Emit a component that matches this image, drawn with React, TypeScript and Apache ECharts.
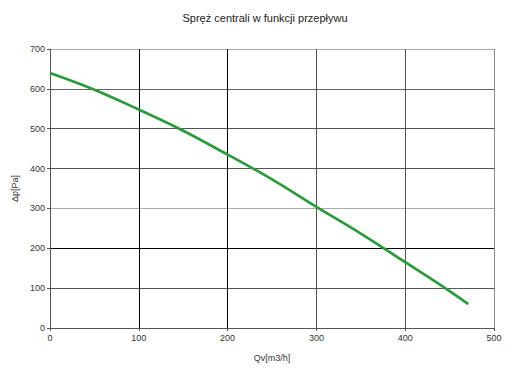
import React, { useEffect, useRef } from "react";
import * as echarts from "echarts";

const flowX = [0, 50, 100, 150, 200, 250, 300, 350, 400, 445, 471];
const pressureY = [640, 598, 548, 495, 435, 373, 304, 237, 165, 100, 60];
const titleText = "Spręż centrali w funkcji przepływu";
const xName = "Qv[m3/h]";
const yName = "Δp[Pa]";

export default function App() {
  const ref = useRef<HTMLDivElement>(null);
  useEffect(() => {
    document.body.style.margin = "0";
    const chart = echarts.init(ref.current!, null, { renderer: "svg" });
    const font = "Liberation Sans";
    chart.setOption({
      animation: false,
      backgroundColor: "#ffffff",
      title: {
        text: titleText,
        left: 260,
        textAlign: "center",
        top: 7,
        textStyle: { fontFamily: font, fontSize: 11, fontWeight: "normal", color: "#222" },
      },
      grid: { left: 50, right: 18, top: 49, bottom: 46, containLabel: false },
      xAxis: {
        type: "value",
        min: 0,
        max: 500,
        interval: 100,
        name: xName,
        nameLocation: "middle",
        nameGap: 25,
        nameTextStyle: { fontFamily: font, fontSize: 9, color: "#333" },
        axisLine: { show: true, lineStyle: { color: "#555", width: 1 } },
        axisTick: { show: true, length: 3, lineStyle: { color: "#555" } },
        axisLabel: { fontFamily: font, fontSize: 9, color: "#333", margin: 5 },
        splitLine: {
          show: true,
          lineStyle: { color: ["#555", "#000", "#000", "#555", "#555", "#888"], width: 1 },
        },
      },
      yAxis: {
        type: "value",
        min: 0,
        max: 700,
        interval: 100,
        name: yName,
        nameLocation: "middle",
        nameGap: 31,
        nameRotate: 90,
        nameTextStyle: { fontFamily: font, fontSize: 9, color: "#333" },
        axisLine: { show: true, lineStyle: { color: "#555", width: 1 } },
        axisTick: { show: true, length: 3, lineStyle: { color: "#555" } },
        axisLabel: { fontFamily: font, fontSize: 9, color: "#333", margin: 5 },
        splitLine: {
          show: true,
          lineStyle: {
            color: ["#555", "#555", "#000", "#aaa", "#555", "#555", "#666", "#aaa"],
            width: 1,
          },
        },
      },
      series: [
        {
          type: "line",
          data: flowX.map((x, i) => [x, pressureY[i]]),
          smooth: 0.4,
          showSymbol: false,
          lineStyle: { color: "#2a9a3c", width: 2.7 },
          itemStyle: { color: "#2a9a3c" },
        },
      ],
    });
    return () => chart.dispose();
  }, []);
  return <div ref={ref} style={{ width: 512, height: 374 }} />;
}
